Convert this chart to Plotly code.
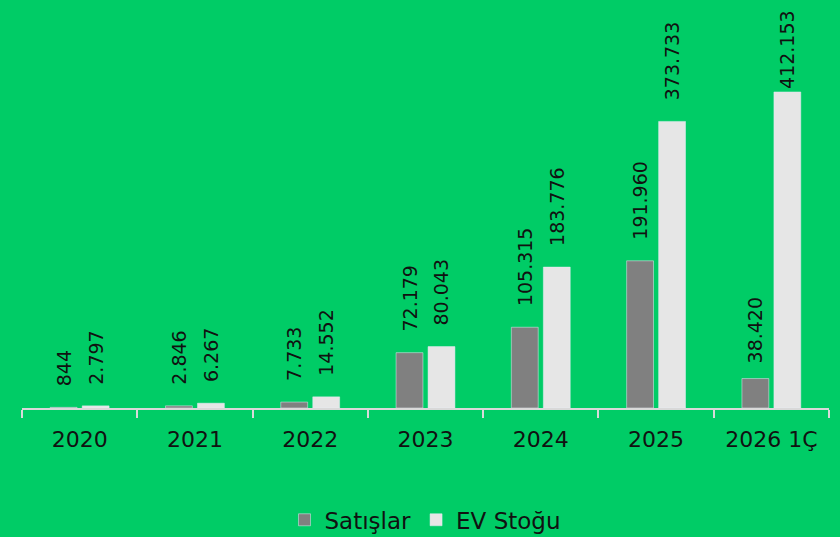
import plotly.graph_objects as go

categories = ["2020", "2021", "2022", "2023", "2024", "2025", "2026 1Ç"]
satislar = [844, 2846, 7733, 72179, 105315, 191960, 38420]
ev_stogu = [2797, 6267, 14552, 80043, 183776, 373733, 412153]

# label offset (in non-breaking spaces) above each bar, style only
pad_satislar = [3, 3, 3, 3, 3, 3, 2]
pad_ev = [3, 3, 3, 3, 3, 3, 0]

def fmt(v, pad):
    return "\u00a0" * pad + f"{v:,}".replace(",", ".")

FONT = "DejaVu Sans"
BG = "#00CC66"

fig = go.Figure()
fig.add_trace(go.Bar(
    name="Satışlar", x=categories, y=satislar,
    marker=dict(color="#808080"),
    text=[fmt(v, p) for v, p in zip(satislar, pad_satislar)], textposition="outside",
    textangle=-90, textfont=dict(size=19, color="#111111", family=FONT),
    constraintext="none", cliponaxis=False,
))
fig.add_trace(go.Bar(
    name="EV Stoğu", x=categories, y=ev_stogu,
    marker=dict(color="#E6E6E6"),
    text=[fmt(v, p) for v, p in zip(ev_stogu, pad_ev)], textposition="outside",
    textangle=-90, textfont=dict(size=19, color="#111111", family=FONT),
    constraintext="none", cliponaxis=False,
))

fig.update_layout(
    width=840, height=537,
    paper_bgcolor=BG, plot_bgcolor=BG,
    margin=dict(l=22, r=11, t=20, b=129, autoexpand=False),
    barmode="group", bargap=0.445, bargroupgap=0.16,
    font=dict(family=FONT, color="#111111"),
    showlegend=True,
    legend=dict(orientation="h", x=0.5, xanchor="center", yref="container", y=0.032, yanchor="middle",
                itemwidth=30,
                font=dict(size=23, family=FONT, color="#111111"), bgcolor="rgba(0,0,0,0)"),
    xaxis=dict(
        type="category", showline=True, linecolor="#D9D9D9", linewidth=2,
        ticks="outside", tickson="boundaries", ticklen=8, tickcolor="#D9D9D9", tickwidth=2,
        tickfont=dict(size=22, family=FONT, color="#111111"), ticklabelstandoff=11,
        showgrid=False, zeroline=False, automargin=False,
    ),
    yaxis=dict(range=[0, 506000], visible=False, showgrid=False, zeroline=False, automargin=False),
)

fig.write_html("out.html", config={"displayModeBar": False},
               post_script="document.body.style.margin='0';")
